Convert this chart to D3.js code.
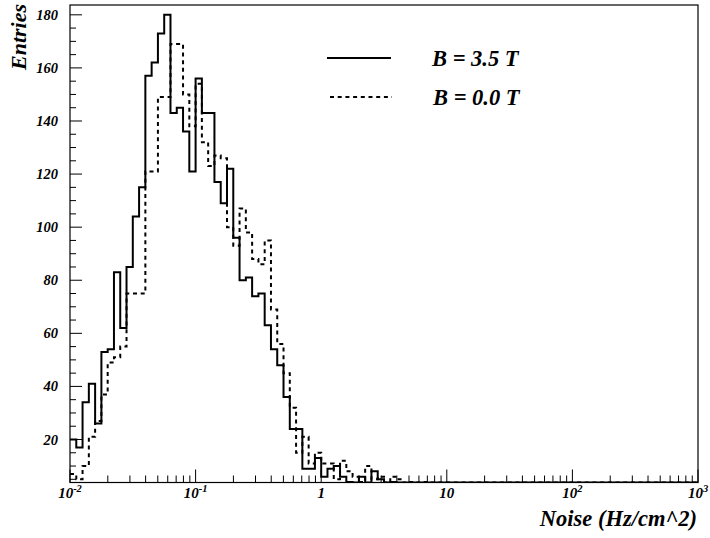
<!DOCTYPE html>
<html><head><meta charset="utf-8">
<script src="https://cdn.jsdelivr.net/npm/d3@7"></script>
<style>
body{margin:0;background:#fff}
text{font-family:"Liberation Serif","Times New Roman",serif;font-weight:bold;font-style:italic;fill:#000}
</style>
</head><body>
<svg id="c" width="710" height="538"></svg>
<script>
// Histogram definition: 100 log-spaced bins from 10^-2 to 10^3
const xRange = [0.01, 1000];
const nBins = 100;
const yRange = [3.8, 183.7];

// B = 3.5 T (solid)
const entriesB35 = [
  20,17,34,41,26,53,54,83,62,85,
  104,115,157,162,173,180,143,145,136,121,
  156,143,143,117,109,122,96,80,81,74,
  75,63,54,48,36,24,24,9,9,13,
  6,9,10,6,4,3,6,3,8,5,
  3,4,2,3,1,2,1,0,1,1,
  0,1,0,0,1,0,0,0,0,0,
  0,0,0,0,0,0,0,0,0,0,
  0,0,0,0,0,0,0,0,0,0,
  0,0,0,0,0,0,0,0,0,0
];
// B = 0.0 T (dashed)
const entriesB00 = [
  7,5,10,21,27,37,49,51,55,75,
  75,75,121,121,149,149,169,169,150,138,
  154,132,123,127,126,100,93,107,98,88,
  86,95,69,56,45,32,15,21,11,15,
  11,11,5,12,8,6,4,10,5,6,
  3,6,5,3,4,2,4,3,2,1,
  2,1,1,0,1,0,1,0,0,0,
  0,0,0,0,0,0,0,0,0,0,
  0,0,0,0,0,0,0,0,0,0,
  0,0,0,0,0,0,0,0,0,0
];

const yMajorTicks = [20,40,60,80,100,120,140,160,180];
const xDecades = [-2,-1,0,1,2,3];
const xDecadeLabels = [["10","-2"],["10","-1"],["1",""],["10",""],["10","2"],["10","3"]];
const legendLabels = ["B = 3.5 T", "B = 0.0 T"];
const xTitle = "Noise (Hz/cm^2)";
const yTitle = "Entries";

const L = 70, R = 698, T = 5, B = 482.5;
const svg = d3.select("#c");
const x = d3.scaleLog().domain(xRange).range([L, R]);
const y = d3.scaleLinear().domain(yRange).range([B, T]);

const lg0 = Math.log10(xRange[0]), lg1 = Math.log10(xRange[1]);
const edges = d3.range(nBins + 1).map(i => Math.pow(10, lg0 + (lg1 - lg0) * i / nBins));

svg.append("clipPath").attr("id","fr").append("rect")
  .attr("x", L).attr("y", T).attr("width", R - L).attr("height", B - T);

const clamp = v => Math.max(yRange[0], Math.min(yRange[1], v));
const line = d3.line().x(d => x(d[0])).y(d => y(clamp(d[1]))).curve(d3.curveStepAfter);
function pts(vals){
  const p = vals.map((v,i) => [edges[i], v]);
  p.push([edges[nBins], vals[nBins-1]]);
  return p;
}

const g = svg.append("g").attr("clip-path","url(#fr)");
g.append("path").attr("d", line(pts(entriesB00))).attr("fill","none")
  .attr("stroke","#000").attr("stroke-width",2).attr("stroke-dasharray","4,3.7");
g.append("path").attr("d", line(pts(entriesB35))).attr("fill","none")
  .attr("stroke","#000").attr("stroke-width",2);

// frame
svg.append("rect").attr("x", L).attr("y", T).attr("width", R - L).attr("height", B - T)
  .attr("fill","none").attr("stroke","#000").attr("stroke-width",1.2);

// y ticks
const yMinor = d3.range(5, 181, 5);
svg.append("g").selectAll("line").data(yMinor).join("line")
  .attr("x1", L).attr("x2", d => L + (d % 20 === 0 ? 12 : 6))
  .attr("y1", d => y(d)).attr("y2", d => y(d))
  .attr("stroke","#000").attr("stroke-width",1);
svg.append("g").selectAll("text").data(yMajorTicks).join("text")
  .attr("x", 58).attr("y", d => y(d)).attr("text-anchor","end")
  .attr("dominant-baseline","central").attr("font-size",14.5).text(d => d);

// x ticks
const xt = [];
xDecades.forEach(d => {
  xt.push({v: Math.pow(10,d), major: true});
  if (d < 3) for (let k = 2; k <= 9; k++) xt.push({v: k*Math.pow(10,d), major: false});
});
svg.append("g").selectAll("line").data(xt).join("line")
  .attr("x1", d => x(d.v)).attr("x2", d => x(d.v))
  .attr("y1", B).attr("y2", d => B - (d.major ? 13 : 7))
  .attr("stroke","#000").attr("stroke-width",1);
const xl = svg.append("g").selectAll("text").data(xDecades).join("text")
  .attr("x", d => x(Math.pow(10,d))).attr("y", 498).attr("text-anchor","middle").attr("font-size",15);
xl.append("tspan").text((d,i) => xDecadeLabels[i][0]);
xl.append("tspan").attr("font-size",10.5).attr("dy",-6).text((d,i) => xDecadeLabels[i][1]);

// titles
svg.append("text").attr("x", 697).attr("y", 526).attr("text-anchor","end")
  .attr("font-size",22.5).text(xTitle);
svg.append("text").attr("transform","translate(26,4) rotate(-90)").attr("text-anchor","end")
  .attr("font-size",22).text(yTitle);

// legend
svg.append("line").attr("x1",327).attr("x2",391).attr("y1",58).attr("y2",58)
  .attr("stroke","#000").attr("stroke-width",2);
svg.append("line").attr("x1",330).attr("x2",392).attr("y1",97).attr("y2",97)
  .attr("stroke","#000").attr("stroke-width",2).attr("stroke-dasharray","4,3.7");
svg.append("text").attr("x",432).attr("y",66).attr("font-size",22.5).text(legendLabels[0]);
svg.append("text").attr("x",433).attr("y",105).attr("font-size",22.5).text(legendLabels[1]);
</script>
</body></html>
